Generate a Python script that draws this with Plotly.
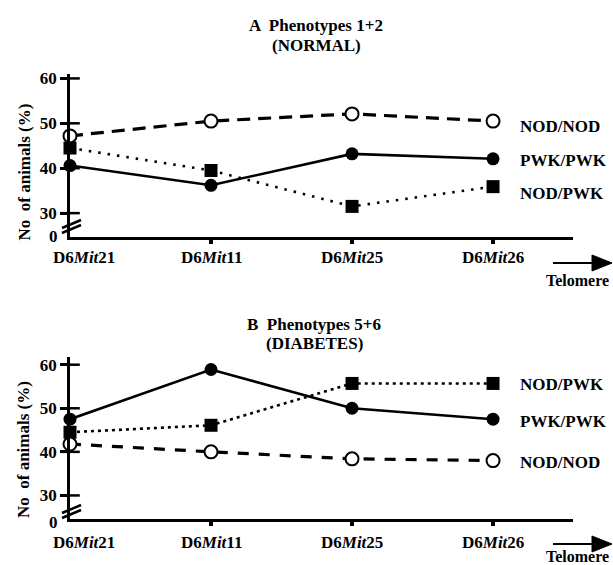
import plotly.graph_objects as go

categories = ["D6Mit21", "D6Mit11", "D6Mit25", "D6Mit26"]
tick_labels = ["D6<i>Mit</i>21", "D6<i>Mit</i>11", "D6<i>Mit</i>25", "D6<i>Mit</i>26"]
ytick_vals = [30, 40, 50, 60]
ytick_text = ["30", "40", "50", "60"]

# Panel A: Phenotypes 1+2 (NORMAL)
a_nod_nod = [47.2, 50.5, 52.1, 50.5]
a_pwk_pwk = [40.6, 36.2, 43.2, 42.1]
a_nod_pwk = [44.5, 39.5, 31.5, 35.9]

# Panel B: Phenotypes 5+6 (DIABETES)
b_nod_nod = [41.8, 40.0, 38.4, 38.0]
b_pwk_pwk = [47.5, 58.9, 50.0, 47.5]
b_nod_pwk = [44.5, 46.1, 55.7, 55.7]

W, H = 613, 565
FONT = "Liberation Serif"
BLACK = "#000000"
FS = 17

fig = go.Figure()


def add_panel(xa, ya, nodnod, pwkpwk, nodpwk, dash_nn, dash_np):
    # NOD/PWK dotted with squares
    fig.add_trace(go.Scatter(x=categories, y=nodpwk, mode="lines+markers", xaxis=xa, yaxis=ya,
                             line=dict(color=BLACK, width=2.6, dash=dash_np),
                             marker=dict(symbol="square", size=13, color=BLACK),
                             cliponaxis=False, showlegend=False, hoverinfo="skip"))
    # PWK/PWK solid with filled circles
    fig.add_trace(go.Scatter(x=categories, y=pwkpwk, mode="lines+markers", xaxis=xa, yaxis=ya,
                             line=dict(color=BLACK, width=2.6),
                             marker=dict(symbol="circle", size=13, color=BLACK),
                             cliponaxis=False, showlegend=False, hoverinfo="skip"))
    # NOD/NOD dashed with open circles
    fig.add_trace(go.Scatter(x=categories, y=nodnod, mode="lines+markers", xaxis=xa, yaxis=ya,
                             line=dict(color=BLACK, width=3.2, dash=dash_nn),
                             marker=dict(symbol="circle", size=13, color="white",
                                         line=dict(color=BLACK, width=2)),
                             cliponaxis=False, showlegend=False, hoverinfo="skip"))
    # cross-shaped y ticks
    fig.add_trace(go.Scatter(x=[categories[0]] * len(ytick_vals), y=ytick_vals, mode="markers",
                             xaxis=xa, yaxis=ya,
                             marker=dict(symbol="line-ew", size=14, line=dict(color=BLACK, width=2.5)),
                             cliponaxis=False, showlegend=False, hoverinfo="skip"))


add_panel("x", "y", a_nod_nod, a_pwk_pwk, a_nod_pwk, "13px,8px", "2.5px,7px")
add_panel("x2", "y2", b_nod_nod, b_pwk_pwk, b_nod_pwk, "11px,10px", "3px,4px")

x_left = 70 / W
x_right = 573 / W
xrange_ = [0, 3.567]

axis_common = dict(showgrid=False, zeroline=False, showline=True, linecolor=BLACK, linewidth=2.5)

fig.update_layout(
    width=W, height=H,
    margin=dict(l=0, r=0, t=0, b=0),
    paper_bgcolor="white", plot_bgcolor="white",
    font=dict(family=FONT, size=FS, color=BLACK, weight="bold"),
    showlegend=False,
    xaxis=dict(domain=[x_left, x_right], type="category", categoryorder="array",
               categoryarray=categories, range=xrange_, anchor="y",
               tickmode="array", tickvals=categories[1:], showticklabels=False,
               ticks="outside", ticklen=4, tickwidth=3.5, tickcolor=BLACK, **axis_common),
    yaxis=dict(domain=[1 - 234 / H, 1 - 70 / H], range=[24.7, 60.9], anchor="x",
               tickmode="array", tickvals=ytick_vals, ticktext=ytick_text,
               ticks="outside", ticklen=7, tickwidth=2.5, tickcolor=BLACK,
               tickfont=dict(size=FS, family=FONT, weight="bold"), **axis_common),
    xaxis2=dict(domain=[x_left, x_right], type="category", categoryorder="array",
                categoryarray=categories, range=xrange_, anchor="y2",
                tickmode="array", tickvals=categories[1:], showticklabels=False,
                ticks="outside", ticklen=4, tickwidth=3.5, tickcolor=BLACK, **axis_common),
    yaxis2=dict(domain=[1 - 519 / H, 1 - 355 / H], range=[24.5, 61.8], anchor="x2",
                tickmode="array", tickvals=ytick_vals, ticktext=ytick_text,
                ticks="outside", ticklen=7, tickwidth=2.5, tickcolor=BLACK,
                tickfont=dict(size=FS, family=FONT, weight="bold"), **axis_common),
)

ann = []


def paper_text(text, px, py, size=FS, xanchor="center", angle=0):
    ann.append(dict(text=text, x=px / W, y=1 - py / H, xref="paper", yref="paper",
                    xanchor=xanchor, yanchor="middle", showarrow=False, textangle=angle,
                    font=dict(size=size, family=FONT, weight="bold", color=BLACK)))


# titles
paper_text("A  Phenotypes 1+2", 316, 21)
paper_text("(NORMAL)", 316, 41)
paper_text("B  Phenotypes 5+6", 314, 322)
paper_text("(DIABETES)", 314, 342)

# y titles
paper_text("No  of animals (%)", 25, 169, angle=-90)
paper_text("No  of animals (%)", 23, 449, angle=-90)

# telomere labels
paper_text("Telomere", 577, 278, size=16)
paper_text("Telomere", 577, 556, size=16)

# x tick labels and "0" labels, series labels
for xa, ya, yshift in (("x", "y", -21), ("x2", "y2", -23)):
    for i, (c, t) in enumerate(zip(categories, tick_labels)):
        ann.append(dict(text=t, x=c, y=0, xref=xa, yref=ya + " domain", yanchor="middle",
                        xanchor="center", yshift=yshift, xshift=14 if i == 0 else 0,
                        showarrow=False, font=dict(size=FS, family=FONT, weight="bold")))
    ann.append(dict(text="0", x=categories[0], y=0, xref=xa, yref=ya + " domain",
                    xanchor="right", yanchor="middle", xshift=-10, yshift=0 if xa == "x" else -3,
                    showarrow=False, font=dict(size=FS, family=FONT, weight="bold")))

series_labels_a = [("NOD/NOD", a_nod_nod[-1], -5), ("PWK/PWK", a_pwk_pwk[-1], -2), ("NOD/PWK", a_nod_pwk[-1], -7)]
series_labels_b = [("NOD/PWK", b_nod_pwk[-1], -1), ("PWK/PWK", b_pwk_pwk[-1], -2), ("NOD/NOD", b_nod_nod[-1], -2)]
for xa, ya, labels in (("x", "y", series_labels_a), ("x2", "y2", series_labels_b)):
    for name, yv, ys in labels:
        ann.append(dict(text=name, x=categories[-1], y=yv, xref=xa, yref=ya, xanchor="left",
                        yanchor="middle", xshift=25, yshift=ys, showarrow=False,
                        font=dict(size=FS, family=FONT, weight="bold")))

fig.update_layout(annotations=ann)

# decorations in pixel space: axis breaks and telomere arrows
shapes = []


def pix_line(x0, y0, x1, y1, width=2.5):
    shapes.append(dict(type="line", xref="paper", yref="paper", xsizemode="pixel", ysizemode="pixel",
                       xanchor=0, yanchor=1, x0=x0, y0=-y0, x1=x1, y1=-y1,
                       line=dict(color=BLACK, width=width)))


def pix_path(path):
    shapes.append(dict(type="path", xref="paper", yref="paper", xsizemode="pixel", ysizemode="pixel",
                       xanchor=0, yanchor=1, path=path, fillcolor=BLACK, line=dict(color=BLACK, width=1)))


# axis breaks
pix_line(62, 223, 81, 215)
pix_line(62, 228, 81, 220)
pix_line(62, 508, 81, 500)
pix_line(62, 513, 81, 505)

# telomere arrows
pix_line(553, 258, 594, 258, width=2)
pix_path("M 592,-250 L 612,-258 L 592,-266 Z")
pix_line(553, 539, 594, 539, width=2)
pix_path("M 592,-531 L 612,-539 L 592,-547 Z")

fig.update_layout(shapes=shapes)

fig.write_html("out.html")
